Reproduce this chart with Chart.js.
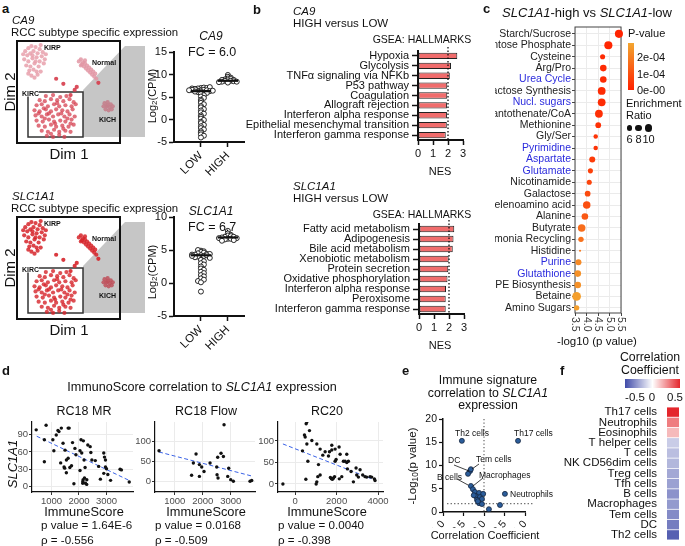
<!DOCTYPE html>
<html lang="en">
<head>
<meta charset="UTF-8">
<title>SLC1A1 in RCC</title>
<script src="https://cdn.jsdelivr.net/npm/chart.js"></script>
<style>
  body { margin: 0; background: #fff; }
  #fig { position: relative; width: 685px; height: 546px; overflow: hidden;
         font-family: "Liberation Sans", Arial, sans-serif; color: #111; }
  #fig > * { position: absolute; }
  .t { white-space: nowrap; line-height: 1; }
  sub { font-size: 0.72em; vertical-align: -0.25em; line-height: 0; }
</style>
</head>
<body>
<div id="fig">
  <!-- zoom wedges and frames of the two embeddings -->
  <svg width="685" height="546" style="left:0;top:0">
    <polygon points="83,90 125,46 145,46 145,137 83,137" fill="#c6c6c6"/>
    <polygon points="83,266 125,222 145,222 145,313 83,313" fill="#c6c6c6"/>
    <rect x="17" y="41" width="103" height="102" fill="none" stroke="#111" stroke-width="2"/>
    <rect x="28" y="92" width="55" height="45" fill="none" stroke="#333" stroke-width="1.5"/>
    <rect x="17" y="217" width="103" height="102" fill="none" stroke="#111" stroke-width="2"/>
    <rect x="28" y="268" width="55" height="45" fill="none" stroke="#333" stroke-width="1.5"/>
  </svg>
</div>

<script>
// ---- panel a: embedding (Dim 1 / Dim 2 rescaled to 0-100) ----
const embKIRC = [[28,46],[35,47],[42,45],[48,46],[22,42],[27,41],[33,43],[39,42],[45,41],[51,43],[55,40],
  [19,37],[24,38],[30,36],[36,38],[41,36],[47,37],[53,36],[57,38],[17,32],[22,31],[28,33],[33,31],[38,33],
  [44,32],[49,31],[54,33],[18,27],[24,26],[29,28],[35,26],[40,28],[46,26],[51,28],[56,26],[19,22],[25,21],
  [31,23],[36,21],[42,22],[47,21],[53,23],[21,17],[27,16],[33,18],[38,16],[44,17],[50,16],[55,18],[24,12],
  [30,11],[36,13],[41,11],[47,12],[52,11],[29,7],[35,6],[41,8],[46,6],[26,34],[31,29],[43,29],[37,19],
  [49,24],[21,29],[45,14],[33,9],[39,39],[27,24],[52,19]];
const embKIRP = [[8,90],[11,93],[14,95],[18,94],[22,92],[25,89],[10,86],[13,88],[16,90],[20,88],[24,85],
  [27,82],[7,82],[11,80],[15,83],[19,84],[22,80],[26,78],[9,76],[13,75],[17,78],[21,75],[12,71],[16,72],
  [19,70],[6,87],[28,87],[15,86],[18,80],[23,96],[14,66],[17,64],[20,67],[11,68],[23,70]];
const embNormal = [[60,80],[62,82],[64,79],[63,77],[66,78],[65,75],[68,76],[67,73],[70,74],[69,71],[72,72],
  [71,69],[74,70],[73,67],[76,68],[75,65],[77,63],[66,81],[62,76]];
const embKICH = [[85,39],[88,40],[91,38],[84,36],[87,36],[90,35],[93,36],[86,33],[89,32],[92,33],[88,37]];
const embOther = [[52,47],[58,55],[79,59],[45,58],[38,63],[56,52]];
const clusterLabels = ['KIRP', 'Normal', 'KIRC', 'KICH'];

// ---- panel a: expression by group ----
const groups = ['LOW', 'HIGH'];
const ca9Low = [7.0,7.1,6.9,7.0,6.8,7.2,6.9,6.5,6.6,6.4,6.5,6.7,6.3,6.6,6.4,6.5,6.2,6.0,6.1,5.9,6.2,
  5.7,5.4,5.1,4.8,4.4,4.1,3.7,3.4,3.0,2.7,2.3,2.0,1.6,1.3,0.9,0.6,0.2,-0.1,-0.5,-0.8,-1.2,-1.5,-1.9,
  -2.2,-2.6,-2.9,-3.3,-3.6,-4.0];
const ca9High = [9.9,9.5,9.3,9.1,9.0,8.9,8.8,8.8,8.7,8.6,8.6,8.5,8.4,8.4,8.3,8.2];
const ca9Median = [6.3, 8.6];
const slcLow = [4.9,4.8,5.0,4.7,4.6,4.5,4.4,4.3,4.2,4.4,4.1,4.0,4.2,3.9,4.3,3.8,4.1,3.5,3.3,3.0,
  2.8,2.5,2.2,2.0,1.7,1.5,1.2,1.0,0.7,0.5,0.3,0.1,-1.3];
const slcHigh = [7.9,7.5,7.3,7.2,7.1,7.0,7.0,6.9,6.8,6.8,6.7,6.7,6.6,6.5,6.4];
const slcMedian = [4.2, 6.9];

// ---- panel b: GSEA hallmarks ----
const ca9Terms = ['Hypoxia','Glycolysis','TNFα signaling via NFKb','P53 pathway','Coagulation',
  'Allograft rejection','Interferon alpha response','Epithelial mesenchymal transition','Interferon gamma response'];
const ca9NES = [2.62, 2.2, 2.12, 1.95, 1.95, 1.93, 1.93, 1.92, 1.85];
const slcTerms = ['Fatty acid metabolism','Adipogenesis','Bile acid metabolism','Xenobiotic metabolism',
  'Protein secretion','Oxidative phosphorylation','Interferon alpha response','Peroxisome','Interferon gamma response'];
const slcNES = [2.35, 2.3, 2.25, 1.98, 1.95, 1.9, 1.8, 1.78, 1.78];
const nesCutoff = 2;

// ---- panel c: metabolite set enrichment ----
const pathways = ['Starch/Sucrose','Pentose Phosphate','Cysteine','Arg/Pro','Urea Cycle','Lactose Synthesis',
  'Nucl. sugars','Pantothenate/CoA','Methionine','Gly/Ser','Pyrimidine','Aspartate','Glutamate','Nicotinamide',
  'Galactose','Selenoamino acid','Alanine','Butyrate','Ammonia Recycling','Histidine','Purine','Glutathione',
  'PE Biosynthesis','Betaine','Amino Sugars'];
const pathLogP = [5.41,4.95,4.70,4.73,4.73,4.66,4.66,4.54,4.51,4.40,4.40,4.25,4.17,4.12,4.05,4.01,3.93,
  3.79,3.76,3.72,3.65,3.62,3.62,3.57,3.57];
const pathRatio = [11,11,6,8.5,8.5,10.5,10.5,10.5,7,5,5,7.5,6,6,7,10,8.5,10,6.5,1,7.5,8.5,8.5,12,6.5];
const bluePathways = ['Urea Cycle','Nucl. sugars','Pyrimidine','Aspartate','Glutamate','Purine','Glutathione'];
const pTicks = ['2e-04', '1e-04', '0e-00'];
const ratioTicks = [6, 8, 10];

// ---- panel d: ImmuneScore vs SLC1A1 ----
const mrPoints = [[444,98],[804,106],[740,81],[740,43],[1049,81],[1086,62],[1173,89],[1271,95],[1235,97],
  [1358,101],[1605,101],[1642,101],[1420,75],[1494,63],[1333,41],[1457,34],[1543,46],[1605,49],[1667,33],
  [1728,36],[1765,76],[1852,66],[1889,55],[1815,5],[2037,28],[2074,81],[2160,79],[2037,62],[2100,58],
  [2185,46],[2222,33],[2284,12],[2235,6],[2136,6],[2321,72],[2407,69],[2432,59],[2469,46],[2593,45],
  [2716,35],[2778,13],[2901,58],[2926,51],[2963,46],[2963,34],[3000,31],[3049,21],[2901,23],[3148,11],
  [3494,30],[3543,29],[3827,8],[1480,32],[1540,24],[2150,12],[2140,9],[2280,4],[2200,15]];
const mrFit = [[462,87],[3818,11]];
const flowPoints = [[437,76],[1759,68],[1663,46],[1878,42],[1961,36],[2044,25],[1878,13],[2259,46],
  [2532,60],[2651,70],[2735,62],[2759,140],[2497,36],[2509,17],[2544,9],[2925,33],[2890,13],[2997,5],
  [3092,1],[3687,1],[3747,3],[1600,16]];
const flowFit = [[437,73],[3747,14]];
const rc20Points = [[-593,0],[352,77],[564,144],[530,140],[690,124],[448,114],[482,109],[564,93],[804,101],
  [612,53],[515,11],[1044,93],[1205,81],[1124,45],[1092,17],[1044,5],[1012,0],[1205,21],[1333,67],
  [1446,75],[1655,75],[1767,90],[1767,79],[1607,65],[1928,81],[1976,57],[1928,53],[1700,15],[1750,12],
  [1800,11],[1850,14],[1900,17],[2120,86],[2169,69],[2329,53],[2410,53],[2490,50],[2570,53],[2249,17],
  [2129,12],[2490,69],[2522,35],[2699,29],[2940,37],[2972,21],[3133,33],[3261,21],[3373,17],[3614,17],
  [3694,16],[3855,8],[3823,12],[3052,16],[2811,5],[3454,16]];
const rc20Fit = [[-593,93],[3855,9]];
const cohorts = ['RC18 MR', 'RC18 Flow', 'RC20'];
const pValues = ['1.64E-6', '0.0168', '0.0040'];
const rhos = ['-0.556', '-0.509', '-0.398'];

// ---- panel e: immune signatures ----
const sigCoef = [-0.54,0.83,-0.34,-0.32,-0.39,-0.32,-0.27,-0.22,-0.12,-0.02,-0.20,-0.10,-0.17,-0.05,
  -0.12,-0.05,0.12,0.39,0.51,-0.25,-0.15];
const sigLogP = [15.3,15.3,8.8,9.2,8.2,5.6,4.9,4.3,4.1,3.9,3.4,3.2,2.6,2.8,1.9,1.7,0.6,1.5,3.9,3.6,2.3];
const sigThreshold = 1.8;

// ---- panel f: heatmap ----
const heatCells = ['Th17 cells','Neutrophils','Eosinophils','T helper cells','T cells','NK CD56dim cells',
  'Treg cells','Tfh cells','B cells','Macrophages','Tem cells','DC','Th2 cells'];
const heatCoef = [0.52,0.3,0.16,-0.14,-0.18,-0.2,-0.24,-0.26,-0.3,-0.28,-0.32,-0.36,-0.44];

// ---------------------------------------------------------------
const fig = document.getElementById('fig');
Chart.defaults.font.family = '"Liberation Sans", Arial, sans-serif';
Chart.defaults.color = '#111';
Chart.defaults.responsive = false;
Chart.defaults.animation = false;
Chart.defaults.plugins.legend.display = false;
Chart.defaults.plugins.tooltip.enabled = false;

function merge(a, b) {
  for (const k in b) {
    if (b[k] && typeof b[k] === 'object' && !Array.isArray(b[k]) && a[k] && typeof a[k] === 'object') merge(a[k], b[k]);
    else a[k] = b[k];
  }
  return a;
}

// canvas whose chart area lands exactly on area = [x0, y0, x1, y1]
function plot(area, yW, xH, cfg) {
  const M = 16;
  const c = document.createElement('canvas');
  const w = area[2] - area[0] + yW + 2 * M, h = area[3] - area[1] + xH + 2 * M;
  c.width = w; c.height = h;
  c.style.width = w + 'px'; c.style.height = h + 'px';
  c.style.left = (area[0] - yW - M) + 'px';
  c.style.top = (area[1] - M) + 'px';
  fig.appendChild(c);
  cfg.options.layout = { padding: M };
  const sc = cfg.options.scales;
  sc.x.afterFit = s => { s.height = xH; s.paddingLeft = s.paddingRight = 0; };
  sc.y.afterFit = s => { s.width = yW; s.paddingTop = s.paddingBottom = 0; };
  return new Chart(c, cfg);
}

function txt(x, y, html, size, o = {}) {
  const d = document.createElement('div');
  d.className = 't';
  d.innerHTML = html;
  d.style.fontSize = size + 'px';
  d.style.left = x + 'px';
  d.style.top = y + 'px';
  const ax = { l: '0', c: '-50%', r: '-100%' }[o.align || 'l'];
  d.style.transform = o.rot ? `translate(-50%,-50%) rotate(${o.rot}deg)` : `translate(${ax},-50%)`;
  if (o.bold) d.style.fontWeight = 'bold';
  if (o.color) d.style.color = o.color;
  fig.appendChild(d);
  return d;
}

// GraphPad-like axis
function gp() {
  return {
    grid: { drawOnChartArea: false, tickLength: 5, tickColor: '#111', tickWidth: 1.5, offset: false },
    border: { color: '#111', width: 2 },
    ticks: { color: '#111', font: { size: 11 }, padding: 2, autoSkip: false }
  };
}
// ggplot-like axis
function gg() {
  return {
    grid: { color: '#ebebeb', tickLength: 3, tickColor: '#333' },
    border: { color: '#111', width: 1.2 },
    ticks: { color: '#4d4d4d', font: { size: 9.5 }, padding: 1, autoSkip: false, callback: v => String(v) }
  };
}
const fixed = vals => s => { s.ticks = vals.map(v => ({ value: v })); };

// ---------- a: embeddings ----------
function embedding(top, colors) {
  const sets = [embKIRP, embNormal, embKIRC, embKICH, embOther];
  plot([17, top, 120, top + 102], 0, 0, {
    type: 'scatter',
    data: { datasets: sets.map((pts, i) => ({
      data: pts.map(([x, y]) => ({ x, y })), pointRadius: 2.1,
      pointBackgroundColor: colors[i], pointBorderWidth: 0
    })) },
    options: { scales: { x: { display: false, min: 0, max: 100 }, y: { display: false, min: 0, max: 100 } } }
  });
}
embedding(41, ['rgba(232,160,172,0.85)', 'rgba(226,150,164,0.85)', 'rgba(214,66,82,0.75)', 'rgba(196,128,140,0.9)', 'rgba(214,60,75,0.9)']);
embedding(217, ['rgba(214,36,42,0.85)', 'rgba(214,36,42,0.85)', 'rgba(214,36,42,0.8)', 'rgba(190,80,90,0.85)', 'rgba(214,36,42,0.9)']);

// ---------- a: dot plots ----------
function swarm(vals, cx, step, bin) {
  const used = {};
  return vals.map(v => {
    const b = Math.round(v / bin);
    const k = used[b] = (used[b] === undefined ? 0 : used[b] + 1);
    const off = k === 0 ? 0 : (k % 2 ? 1 : -1) * Math.ceil(k / 2) * step;
    return { x: cx + off, y: v };
  });
}
function dotPlot(area, low, high, med, yMax) {
  const pts = swarm(low, 1, 0.11, 0.5).concat(swarm(high, 2, 0.11, 0.5));
  const bars = med.map((m, i) => ({
    type: 'line', data: [{ x: i + 0.62, y: m }, { x: i + 1.38, y: m }],
    borderColor: '#111', borderWidth: 2.2, pointRadius: 0, clip: false, order: 0
  }));
  plot(area, 30, 36, {
    type: 'scatter',
    data: { datasets: [{ data: pts, pointRadius: 2.5, pointBackgroundColor: '#fff', pointBorderColor: '#111',
      pointBorderWidth: 0.9, clip: false, order: 1 }, ...bars] },
    options: { scales: {
      x: merge(gp(), { min: 0, max: 2.6, afterBuildTicks: fixed([1, 2]),
        ticks: { callback: v => groups[v - 1], minRotation: 45, maxRotation: 45, font: { size: 11.5 } } }),
      y: merge(gp(), { min: -5, max: yMax, ticks: { stepSize: 5 } })
    } }
  });
}
dotPlot([174, 52, 244, 142], ca9Low, ca9High, ca9Median, 15);
dotPlot([174, 217, 244, 316], slcLow, slcHigh, slcMedian, 10);

// ---------- b: GSEA bars ----------
const nesLine = v => ({ id: 'nes', afterDatasetsDraw(ch) {
  const { ctx, chartArea: a, scales: { x } } = ch;
  const px = x.getPixelForValue(v);
  ctx.save();
  ctx.strokeStyle = '#111'; ctx.lineWidth = 1.3; ctx.setLineDash([1.5, 2]);
  ctx.beginPath(); ctx.moveTo(px, a.top - 4); ctx.lineTo(px, a.bottom); ctx.stroke();
  ctx.restore();
} });
function gseaBars(area, terms, nes) {
  plot(area, 190, 28, {
    type: 'bar',
    data: { labels: terms, datasets: [{ data: nes, backgroundColor: '#f06c6c', borderColor: '#222',
      borderWidth: 1, borderSkipped: false, barPercentage: 0.64, categoryPercentage: 1 }] },
    options: { indexAxis: 'y', scales: {
      x: merge(gp(), { min: 0, max: 3, ticks: { stepSize: 1 } }),
      y: merge(gp(), { ticks: { font: { size: 11 }, padding: 3 }, grid: { tickLength: 6 } })
    } },
    plugins: [nesLine(nesCutoff)]
  });
}
gseaBars([418, 51, 463, 140], ca9Terms, ca9NES);
gseaBars([419, 224, 464, 314], slcTerms, slcNES);

// ---------- c: enrichment bubbles ----------
const pLow = [255, 34, 0], pHigh = [243, 166, 48];
function pColor(logp) {
  const t = Math.min(Math.pow(10, -logp) / 2.85e-4, 1);
  const c = pLow.map((v, i) => Math.round(v + (pHigh[i] - v) * t));
  return `rgb(${c.join(',')})`;
}
const ratioR = r => 0.75 + 0.3 * r;
const cFrame = {
  id: 'cFrame',
  beforeDatasetsDraw(ch) {
    const { ctx, chartArea: a } = ch;
    ctx.save(); ctx.strokeStyle = '#444'; ctx.lineWidth = 1;
    ctx.strokeRect(a.left, a.top, a.right - a.left, a.bottom - a.top); ctx.restore();
  },
  afterDraw(ch) {
    const { ctx, chartArea: a, scales: { x } } = ch;
    ctx.save();
    ctx.fillStyle = '#333'; ctx.font = '10.5px "Liberation Sans", Arial';
    ctx.textAlign = 'left'; ctx.textBaseline = 'middle';
    x.ticks.forEach(t => {
      ctx.save(); ctx.translate(x.getPixelForValue(t.value), a.bottom + 4); ctx.rotate(Math.PI / 2);
      ctx.fillText(t.value.toFixed(1), 0, 0); ctx.restore();
    });
    ctx.restore();
  }
};
plot([575, 27, 621, 313], 80, 24, {
  type: 'bubble',
  data: { datasets: [{
    data: pathways.map((p, i) => ({ x: pathLogP[i], y: i, r: ratioR(pathRatio[i]) })),
    backgroundColor: pathLogP.map(pColor), borderWidth: 0, clip: false
  }] },
  options: { scales: {
    x: { min: 3.5, max: 5.5, afterBuildTicks: fixed([3.5, 4, 4.5, 5, 5.5]), ticks: { display: false },
      grid: { color: '#ebebeb', tickLength: 3, tickColor: '#444' }, border: { display: false } },
    y: { reverse: true, min: -0.6, max: 24.45, afterBuildTicks: fixed(pathways.map((p, i) => i)),
      ticks: { autoSkip: false, callback: v => pathways[v], font: { size: 10.5 }, padding: 1,
        color: c => bluePathways.includes(pathways[c.tick.value]) ? '#2b2bdd' : '#222' },
      grid: { color: '#ebebeb', tickLength: 3, tickColor: '#444' }, border: { display: false } }
  } },
  plugins: [cFrame]
});

// ---------- d: correlation scatters ----------
function corrPlot(area, pts, fit, xr, yr, xt, yt) {
  plot(area, 24, 14, {
    type: 'scatter',
    data: { datasets: [
      { type: 'line', data: fit.map(([x, y]) => ({ x, y })), borderColor: '#3a62e6', borderWidth: 1,
        borderDash: [4, 2.5], pointRadius: 0, order: 1 },
      { data: pts.map(([x, y]) => ({ x, y })), pointRadius: 1.7, pointBackgroundColor: '#111',
        pointBorderWidth: 0, order: 0 }
    ] },
    options: { scales: {
      x: merge(gg(), { min: xr[0], max: xr[1], afterBuildTicks: fixed(xt) }),
      y: merge(gg(), { min: yr[0], max: yr[1], afterBuildTicks: fixed(yt) })
    } }
  });
}
corrPlot([32, 422, 133, 492], mrPoints, mrFit, [291, 3964], [-9.1, 111.5], [1000, 2000, 3000], [0, 30, 60, 90]);
corrPlot([155, 422, 255, 492], flowPoints, flowFit, [293, 3864], [-25.3, 146.7], [1000, 2000, 3000], [0, 50, 100]);
corrPlot([278, 422, 383, 492], rc20Points, rc20Fit, [-830, 4240], [-18.6, 144], [0, 2000, 4000], [0, 50, 100]);

// ---------- e: volcano of immune signatures ----------
const eGuides = { id: 'eGuides', beforeDatasetsDraw(ch) {
  const { ctx, scales: { x, y } } = ch;
  ctx.save();
  ctx.strokeStyle = '#666'; ctx.lineWidth = 1.2; ctx.setLineDash([1.3, 2.2]);
  ctx.beginPath();
  const x0 = x.getPixelForValue(0);
  ctx.moveTo(x0, y.getPixelForValue(20)); ctx.lineTo(x0, y.getPixelForValue(0));
  const yp = y.getPixelForValue(sigThreshold);
  ctx.moveTo(x.getPixelForValue(-0.9), yp); ctx.lineTo(x.getPixelForValue(1.2), yp);
  ctx.stroke(); ctx.restore();
} };
plot([443, 419, 525, 512], 24, 16, {
  type: 'scatter',
  data: { datasets: [{ data: sigCoef.map((x, i) => ({ x, y: sigLogP[i] })), pointRadius: 2.5,
    pointBackgroundColor: '#2b5d9b', pointBorderColor: '#15263f', pointBorderWidth: 0.8, clip: false }] },
  options: { scales: {
    x: merge(gp(), { min: -1, max: 1, border: { width: 1.5 }, grid: { tickLength: 4, tickWidth: 1.2 },
      afterBuildTicks: fixed([-1, -0.5, 0, 0.5, 1]),
      ticks: { callback: v => v.toFixed(1), font: { size: 10.5 } } }),
    y: merge(gp(), { min: 0, max: 20, border: { width: 1.5 }, grid: { tickLength: 4, tickWidth: 1.2 },
      ticks: { stepSize: 5, font: { size: 10.5 } } })
  } },
  plugins: [eGuides]
});

// ---------- f: heatmap ----------
const negC = [63, 74, 168], posC = [228, 38, 44];
function coefColor(v) {
  const t = Math.max(-1, Math.min(1, v / 0.5));
  const tgt = t < 0 ? negC : posC, a = Math.abs(t);
  return `rgb(${tgt.map(c => Math.round(255 + (c - 255) * a)).join(',')})`;
}
plot([667, 407, 679, 540], 110, 0, {
  type: 'bar',
  data: { labels: heatCells, datasets: [{ data: heatCells.map(() => [0, 1]),
    backgroundColor: heatCoef.map(coefColor), borderWidth: 0, barPercentage: 1, categoryPercentage: 0.92 }] },
  options: { indexAxis: 'y', scales: {
    x: { display: false, min: 0, max: 1 },
    y: { grid: { display: false }, border: { display: false },
      ticks: { font: { size: 11.5 }, color: '#111', padding: 2, autoSkip: false } }
  } }
});

// ---------- text ----------
const B = { bold: true };
// a
txt(2, 8, 'a', 13, B);
[[0, '<i>CA9</i>', 'FC = 6.0'], [176, '<i>SLC1A1</i>', 'FC = 6.7']].forEach(([dy, gene, fc], k) => {
  txt(12, 21 + dy, gene, 11.5);
  txt(11, 33 + dy, 'RCC subtype specific expression', 11.4);
  txt(9, 92 + dy, 'Dim 2', 15, { rot: -90 });
  txt(69, 153 + dy, 'Dim 1', 15, { align: 'c' });
  txt(44, 47 + dy, clusterLabels[0], 7, B);
  txt(92, 62 + dy, clusterLabels[1], 7, B);
  txt(22, 93 + dy, clusterLabels[2], 7, B).style.background = '#fff';
  txt(99, 119 + dy, clusterLabels[3], 7, B);
  txt(211, (k ? 211 : 36), gene, 12, { align: 'c' });
  txt(188, (k ? 227 : 52), fc, 12.5);
  txt(152, 96 + dy, 'Log<sub>2</sub>(CPM)', 11, { rot: -90 });
});
// b
txt(253, 9, 'b', 13, B);
[[0, '<i>CA9</i>', 171], [175, '<i>SLC1A1</i>', 345]].forEach(([dy, gene, nesY]) => {
  txt(293, 12 + dy, gene, 11.5);
  txt(293, 24 + dy, 'HIGH versus LOW', 11.5);
  txt(422, 39 + dy, 'GSEA: HALLMARKS', 10.5, { align: 'c' });
  txt(440, nesY, 'NES', 11, { align: 'c' });
});
// c
txt(483, 8, 'c', 13, B);
txt(587, 12, '<i>SLC1A1</i>-high vs <i>SLC1A1</i>-low', 13, { align: 'c' });
txt(628, 33, 'P-value', 11);
const cbar = txt(628, 43, '', 1);
Object.assign(cbar.style, { width: '6px', height: '47px', transform: 'none',
  background: `linear-gradient(to top, rgb(${pLow}), rgb(${pHigh}))` });
pTicks.forEach((t, i) => txt(637, 57 + i * 16.5, t, 11));
txt(626, 103, 'Enrichment', 11);
txt(626, 115, 'Ratio', 11);
[629.5, 638.5, 648.5].forEach((x, i) => {
  const r = ratioR(ratioTicks[i]);
  const dot = txt(x - r, 128 - r, '', 1);
  Object.assign(dot.style, { width: 2 * r + 'px', height: 2 * r + 'px', borderRadius: '50%',
    background: '#111', transform: 'none' });
  txt(x, 139, String(ratioTicks[i]), 11, { align: 'c' });
});
txt(597, 342, '-log10 (p value)', 11.5, { align: 'c' });
// d
txt(2, 370, 'd', 13, B);
txt(202, 387, 'ImmunoScore correlation to <i>SLC1A1</i> expression', 12.6, { align: 'c' });
txt(12, 464, '<i>SLC1A1</i>', 13, { rot: -90 });
[[84, 41], [206, 155], [327, 278]].forEach(([cx, lx], i) => {
  txt(cx, 411, cohorts[i], 12.5, { align: 'c' });
  txt(cx, 512, 'ImmuneScore', 12.8, { align: 'c' });
  txt(lx, 525, 'p value = ' + pValues[i], 11.6);
  txt(lx, 540, 'ρ = ' + rhos[i], 11.6);
});
// e
txt(402, 370, 'e', 13, B);
txt(488, 380, 'Immune signature', 12.3, { align: 'c' });
txt(488, 393, 'correlation to <i>SLC1A1</i>', 12.3, { align: 'c' });
txt(488, 405, 'expression', 12.3, { align: 'c' });
txt(413, 466, '-Log<sub>10</sub>(p value)', 11.5, { rot: -90 });
txt(485, 535, 'Correlation Coefficient', 11, { align: 'c' });
[['Th2 cells', 455, 433], ['Th17 cells', 514, 433], ['DC', 448, 460], ['Tem cells', 476, 459],
 ['B cells', 437, 477], ['Macrophages', 479, 475], ['Neutrophils', 510, 494]]
  .forEach(([s, x, y]) => txt(x, y, s, 8.5));
// f
txt(560, 370, 'f', 13, B);
txt(650, 357, 'Correlation', 12.3, { align: 'c' });
txt(650, 370, 'Coefficient', 12.3, { align: 'c' });
const fbar = txt(625, 379, '', 1);
Object.assign(fbar.style, { width: '55px', height: '9px', transform: 'none',
  background: `linear-gradient(to right, rgb(${negC}), #fff, rgb(${posC}))` });
[['-0.5', 635], ['0', 652], ['0.5', 675]].forEach(([s, x]) => txt(x, 398, s, 11.5, { align: 'c' }));

// leader lines for labelled signatures (drawn last, on top)
const ns = 'http://www.w3.org/2000/svg';
const lead = document.createElementNS(ns, 'svg');
lead.setAttribute('width', 685); lead.setAttribute('height', 546);
lead.style.left = '0'; lead.style.top = '0';
[[454, 465, 469, 471], [479, 464, 472, 469], [457, 479, 468, 485], [483, 478, 473, 486]].forEach(([x1, y1, x2, y2]) => {
  const l = document.createElementNS(ns, 'line');
  l.setAttribute('x1', x1); l.setAttribute('y1', y1); l.setAttribute('x2', x2); l.setAttribute('y2', y2);
  l.setAttribute('stroke', '#111'); l.setAttribute('stroke-width', '0.8');
  lead.appendChild(l);
});
fig.appendChild(lead);
</script>
</body>
</html>
